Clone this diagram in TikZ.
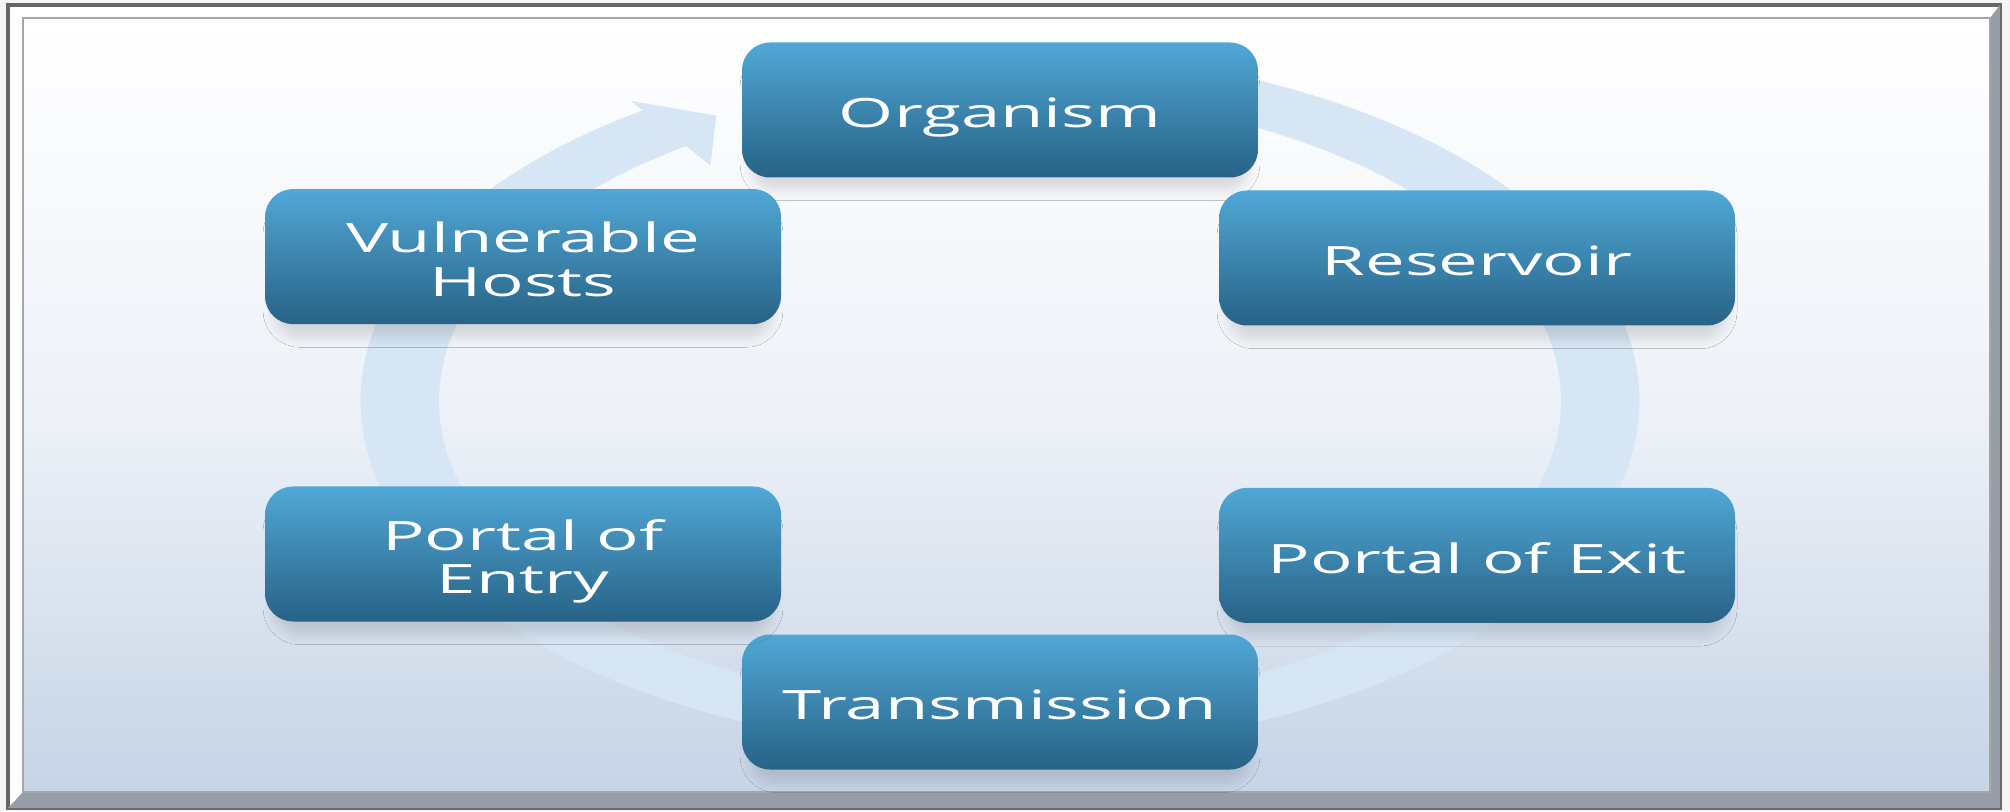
\documentclass[tikz,border=0pt]{standalone}
\usepackage{fontspec}
\setmainfont{Open Sans}
\usepackage{graphicx}
\usepackage{xcolor}
\usetikzlibrary{positioning,shadows.blur}

\definecolor{boxtop}{RGB}{80,168,214}
\definecolor{boxbot}{RGB}{40,98,134}
\definecolor{ringblue}{RGB}{214,230,244}
\definecolor{panelmid}{RGB}{238,242,248}
\definecolor{panelbot}{RGB}{198,212,230}
\definecolor{framegray}{RGB}{150,158,168}

% the labels are set wide, as in the slide
\newcommand{\widetext}[1]{\raisebox{-0.09cm}[\height][\depth]{\scalebox{1.75}[1]{\begin{tabular}{@{}c@{}}#1\end{tabular}}}}

\begin{document}
\begin{tikzpicture}[x=1cm,y=1cm]
        \tikzstyle{stage} = [rounded corners=0.28cm, minimum width=5.16cm, minimum height=1.35cm, inner sep=0pt,
            top color=boxtop, bottom color=boxbot, text=white, font=\fontsize{11.5}{12.3}\selectfont,
            blur shadow={shadow xshift=0pt, shadow yshift=-0.16cm, shadow scale=0.97, shadow opacity=12, shadow blur radius=0.1cm}]
        \useasboundingbox (0,0) rectangle (20.10,8.11);

        % frame and panel
        \fill[black!4] (0,0) rectangle (20.10,8.11);
        \filldraw[fill=white, draw=black!60, line width=1.2pt] (0.08,0.03) rectangle (20.00,8.06);
        \fill[framegray] (0.08,0.03) -- (20.00,0.03) -- (20.00,8.06) -- (19.90,7.93) -- (19.90,0.19) -- (0.23,0.19) -- cycle;
        \shade[top color=white, bottom color=panelbot, middle color=panelmid] (0.23,0.19) rectangle (19.90,7.93);
        \draw[black!35, line width=0.8pt] (0.23,0.19) rectangle (19.90,7.93);

        % circular arrow
        \begin{scope}[shift={(10.00,4.10)}, xscale=1.824]
            \fill[ringblue] (70:3.505) arc[start angle=70, end angle=-236, radius=3.505]
                -- (-236:3.075) arc[start angle=-236, end angle=70, radius=3.075] -- cycle;
            \fill[ringblue] (-236:2.84) -- (-236:3.62) -- (-241.4:3.25) -- cycle;
        \end{scope}

        \node[stage] (organism) at (10.00,7.01) {\widetext{Organism}};
        \node[stage] (reservoir) at (14.77,5.53) {\widetext{Reservoir}};
        \node[stage, below=1.61cm of reservoir] (exit) {\widetext{Portal of Exit}};
        \node[stage] (transmission) at (10.00,1.09) {\widetext{Transmission}};
        \node[stage] (entry) at (5.23,2.57) {\widetext{Portal of\\Entry}};
        \node[stage, above=1.61cm of entry] (hosts) {\widetext{Vulnerable\\Hosts}};
\end{tikzpicture}
\end{document}
